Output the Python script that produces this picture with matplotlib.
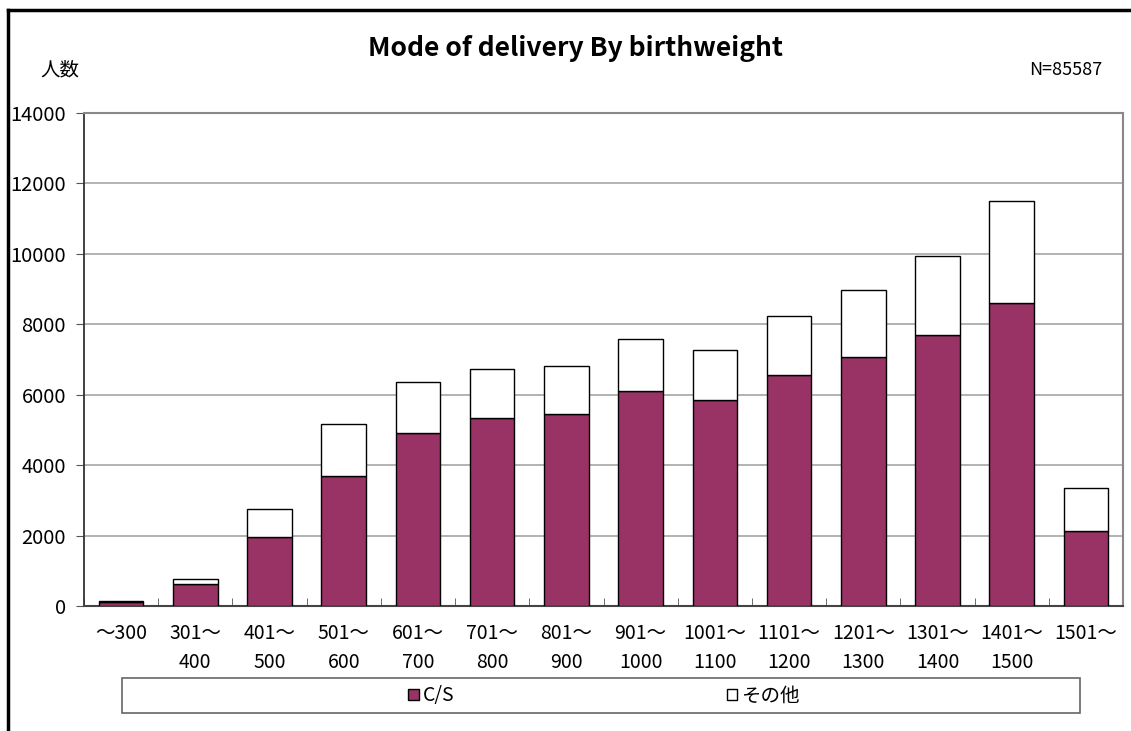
import numpy as np
import matplotlib
matplotlib.use("Agg")
import matplotlib.pyplot as plt
from matplotlib.lines import Line2D
from matplotlib.patches import Rectangle, Patch

plt.rcParams['font.family'] = ['Noto Sans CJK JP', 'DejaVu Sans']

# data
categories = ["～300", "301～\n400", "401～\n500", "501～\n600", "601～\n700",
              "701～\n800", "801～\n900", "901～\n1000", "1001～\n1100",
              "1101～\n1200", "1201～\n1300", "1301～\n1400", "1401～\n1500",
              "1501～"]
cs = [110, 615, 1960, 3690, 4900, 5350, 5445, 6110, 5850, 6555, 7075, 7690, 8610, 2130]
total = [150, 755, 2755, 5160, 6375, 6740, 6810, 7595, 7280, 8230, 8960, 9950, 11515, 3360]
other = [t - c for t, c in zip(total, cs)]

purple = "#993366"

fig = plt.figure(figsize=(11.31, 7.31), dpi=100)
ax = fig.add_axes([84 / 1131, 1 - 606 / 731, (1123 - 84) / 1131, (606 - 113) / 731])

x = np.arange(len(categories))
ax.bar(x, cs, width=0.6, color=purple, edgecolor="black", linewidth=1, zorder=3)
ax.bar(x, other, bottom=cs, width=0.6, color="white", edgecolor="black", linewidth=1, zorder=3)

ax.set_xlim(-0.5, len(categories) - 0.5)
ax.set_ylim(0, 14000)
ax.set_yticks(np.arange(0, 14001, 2000))
ax.yaxis.grid(True, color="#a6a6a6", linewidth=1.2, zorder=0)
ax.set_axisbelow(True)

ax.set_xticks(x)
ax.set_xticklabels(categories, fontsize=14, linespacing=1.5)
ax.set_xticks(np.arange(-0.5, len(categories) - 0.4, 1), minor=True)
ax.tick_params(axis="x", which="major", length=0, pad=12)
ax.tick_params(axis="x", which="minor", direction="in", length=6, color="#555555")
ax.tick_params(axis="y", direction="out", length=6, pad=7, labelsize=14.5, color="#555555")

for side in ["top", "right"]:
    ax.spines[side].set_color("#888888")
    ax.spines[side].set_linewidth(1.5)
ax.spines["left"].set_color("#333333")
ax.spines["bottom"].set_color("#444444")
ax.spines["left"].set_linewidth(1.3)
ax.spines["bottom"].set_linewidth(1.5)

fig.text(575 / 1131, 1 - 49 / 731, "Mode of delivery By birthweight",
         ha="center", va="center", fontsize=19, fontweight="bold")
fig.text(40 / 1131, 1 - 70 / 731, "人数", ha="left", va="center", fontsize=14)
fig.text(1102 / 1131, 1 - 70 / 731, "N=85587", ha="right", va="center", fontsize=13)

# legend box
fig.add_artist(Rectangle((122 / 1131, 1 - 713 / 731), (1080 - 122) / 1131, 35 / 731,
                         transform=fig.transFigure, facecolor="white",
                         edgecolor="#666666", linewidth=1.2))
handles = [Patch(facecolor=purple, edgecolor="black", linewidth=1),
           Patch(facecolor="white", edgecolor="black", linewidth=1)]
fig.legend(handles, ["C/S", "その他"], loc="center", bbox_to_anchor=(604 / 1131, 1 - 696 / 731),
           ncol=2, frameon=False, fontsize=14, handlelength=0.55, handleheight=0.55,
           handletextpad=0.2, columnspacing=14)

# outer frame (top and left edges visible)
fig.add_artist(Line2D([8 / 1131, 1], [1 - 10 / 731, 1 - 10 / 731], transform=fig.transFigure,
                      color="black", linewidth=2.5))
fig.add_artist(Line2D([8 / 1131, 8 / 1131], [0, 1 - 10 / 731], transform=fig.transFigure,
                      color="black", linewidth=2.5))

fig.savefig("out.png", dpi=100)
